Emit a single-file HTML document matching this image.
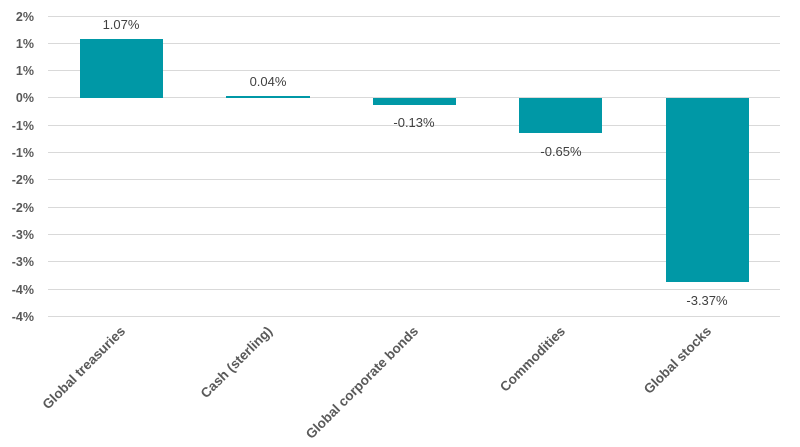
<!DOCTYPE html>
<html><head><meta charset="utf-8"><style>
html,body{margin:0;padding:0;background:#fff;}
svg{display:block;font-family:"Liberation Sans",sans-serif;}
</style></head><body>
<svg width="800" height="447" viewBox="0 0 800 447" xmlns="http://www.w3.org/2000/svg">
<g stroke="#d9d9d9" stroke-width="1">
<line x1="48" x2="780" y1="16.5" y2="16.5"/>
<line x1="48" x2="780" y1="43.5" y2="43.5"/>
<line x1="48" x2="780" y1="70.5" y2="70.5"/>
<line x1="48" x2="780" y1="97.5" y2="97.5"/>
<line x1="48" x2="780" y1="125.5" y2="125.5"/>
<line x1="48" x2="780" y1="152.5" y2="152.5"/>
<line x1="48" x2="780" y1="179.5" y2="179.5"/>
<line x1="48" x2="780" y1="207.5" y2="207.5"/>
<line x1="48" x2="780" y1="234.5" y2="234.5"/>
<line x1="48" x2="780" y1="261.5" y2="261.5"/>
<line x1="48" x2="780" y1="289.5" y2="289.5"/>
<line x1="48" x2="780" y1="316.5" y2="316.5"/>
</g>
<g font-size="12.5" font-weight="bold" fill="#595959" text-anchor="end">
<text x="34" y="21">2%</text>
<text x="34" y="48">1%</text>
<text x="34" y="75">1%</text>
<text x="34" y="102">0%</text>
<text x="34" y="130">-1%</text>
<text x="34" y="157">-1%</text>
<text x="34" y="184">-2%</text>
<text x="34" y="212">-2%</text>
<text x="34" y="239">-3%</text>
<text x="34" y="266">-3%</text>
<text x="34" y="294">-4%</text>
<text x="34" y="321">-4%</text>
</g>
<g fill="#0098a6">
<rect x="80" y="39" width="83" height="59"/>
<rect x="226" y="96" width="84" height="2"/>
<rect x="373" y="98" width="83" height="7"/>
<rect x="519" y="98" width="83" height="35"/>
<rect x="666" y="98" width="83" height="184"/>
</g>
<g font-size="13" fill="#404040" text-anchor="middle">
<text x="121" y="29">1.07%</text>
<text x="268" y="86">0.04%</text>
<text x="414" y="127">-0.13%</text>
<text x="561" y="156">-0.65%</text>
<text x="707" y="305">-3.37%</text>
</g>
<g font-size="13.5" font-weight="bold" fill="#595959" text-anchor="end">
<text transform="translate(126,332) rotate(-45)">Global treasuries</text>
<text transform="translate(273,332) rotate(-45)">Cash (sterling)</text>
<text transform="translate(419,332) rotate(-45)">Global corporate bonds</text>
<text transform="translate(566,332) rotate(-45)">Commodities</text>
<text transform="translate(712,332) rotate(-45)">Global stocks</text>
</g>
</svg>
</body></html>
